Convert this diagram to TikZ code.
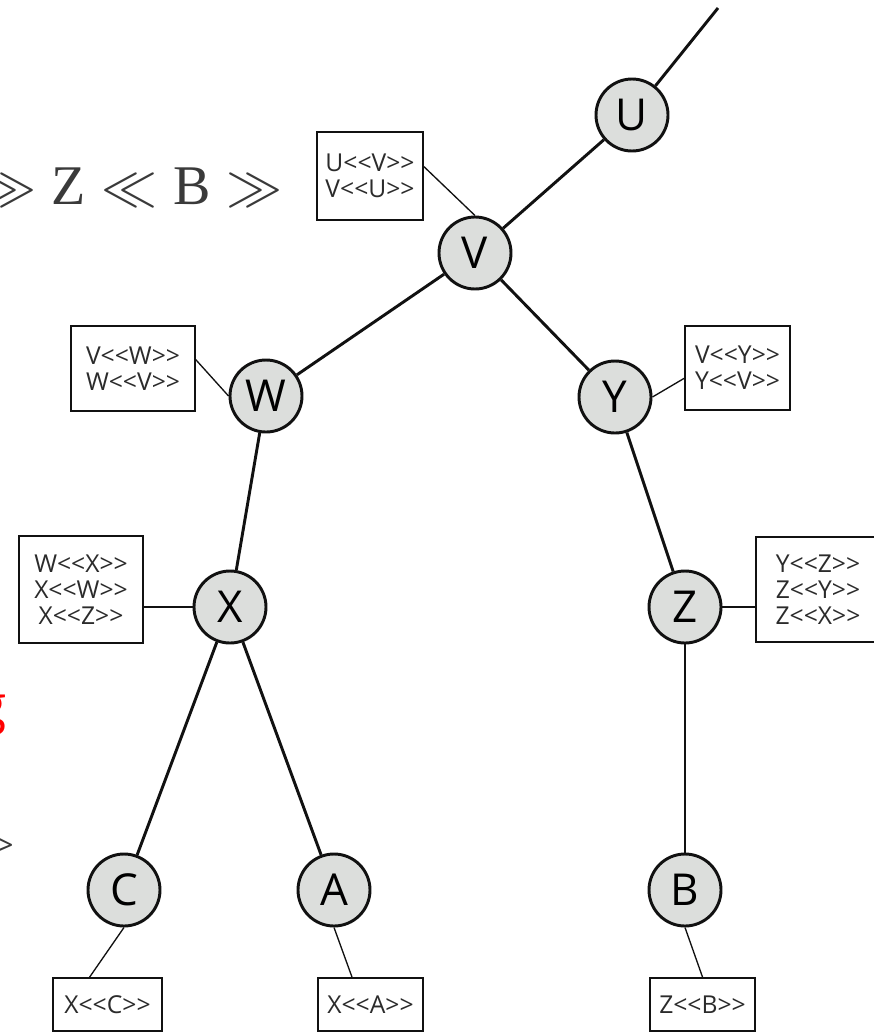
\RequirePackage{fix-cm}
\documentclass[tikz,border=0pt]{standalone}
\usepackage{fontspec}
\setmainfont{Liberation Serif}
\newfontfamily\labfont{Open Sans}[Ligatures=TeXOff]
\usepackage{tikz}
\usetikzlibrary{positioning}
\definecolor{ink}{HTML}{111111}
\definecolor{nodegray}{HTML}{DCDEDC}
\definecolor{boxink}{HTML}{2B2B2B}
\definecolor{slide}{HTML}{3A3A3A}
\tikzset{
  vert/.style={circle,draw=ink,fill=nodegray,line width=2.2pt,minimum size=54pt,inner sep=0pt,font=\labfont\fontsize{33}{36}\selectfont},
  tab/.style={draw=ink,fill=white,line width=1.2pt,inner sep=0pt,align=center,text=boxink,font=\labfont\fontsize{18.5}{19.5}\selectfont},
  edge/.style={draw=ink,line width=2.2pt},
  link/.style={draw=ink,line width=1pt},
}
\begin{document}
\begin{tikzpicture}[x=0.75pt,y=-0.75pt]
\useasboundingbox (0,0) rectangle (874,1032);
\begin{scope}
\clip (0,0) rectangle (874,1032);
% left-over text from the slide
\node[anchor=base west,inner sep=0pt,text=slide,font=\fontsize{42}{46}\selectfont] (rel) at (-20,204) {$\gg\hbox{Z}\ll\hbox{B}\gg$};
\node[anchor=base east,inner sep=0pt,text=red,font=\labfont\fontsize{40}{40}\selectfont] (cue) at (7,723) {g};
\node[anchor=east,inner sep=0pt,text=slide,font=\labfont\fontsize{24}{24}\selectfont] (tail) at (14,847) {>};
% tree vertices
\foreach \n/\x/\y in {U/632/115,V/475/253,W/266/396,Y/615/397,X/230/607,Z/685/607,C/124/890,A/334/890,B/685/890}
  \node[vert] (\n) at (\x,\y) {\n};
\coordinate (top) at (718,8);
\draw[edge] (U) -- (top);
\foreach \a/\b in {U/V,V/W,V/Y,W/X,Y/Z,X/C,X/A,Z/B}
  \draw[edge] (\a) -- (\b);
% separator tables
\node[tab,minimum width=79.5pt,minimum height=66pt] (vbox) at (370,176) {U<<V>>\\V<<U>>};
\node[tab,minimum width=93pt,minimum height=64pt] (wbox) at (133,368.5) {V<<W>>\\W<<V>>};
\node[tab,minimum width=79pt,minimum height=63pt] (ybox) at (737.5,368) {V<<Y>>\\Y<<V>>};
\node[tab,minimum width=93pt,minimum height=80pt] (xbox) at (81,589.5) {W<<X>>\\X<<W>>\\X<<Z>>};
\node[tab,minimum width=93pt,minimum height=79pt] (zbox) at (818,589.5) {Y<<Z>>\\Z<<Y>>\\Z<<X>>};
\node[tab,minimum width=82pt,minimum height=40pt] (cbox) at (107.5,1004.5) {X<<C>>};
\node[tab,minimum width=79pt,minimum height=40pt] (abox) at (370.5,1004.5) {X<<A>>};
\node[tab,minimum width=79pt,minimum height=40pt] (bbox) at (702.5,1004.5) {Z<<B>>};
\draw[link] (vbox.10) -- (V.north);
\draw[link] (wbox.8) -- (W.west);
\draw[link] (Y.east) -- (ybox.191);
\draw[link] (X.west) -- (X.west -| xbox.east);
\draw[link] (Z.east) -- (Z.east -| zbox.west);
\draw[link] (C.south) -- (cbox.123);
\draw[link] (A.south) -- (abox.124);
\draw[link] (B.south) -- (bbox.north);
\end{scope}
\end{tikzpicture}
\end{document}
